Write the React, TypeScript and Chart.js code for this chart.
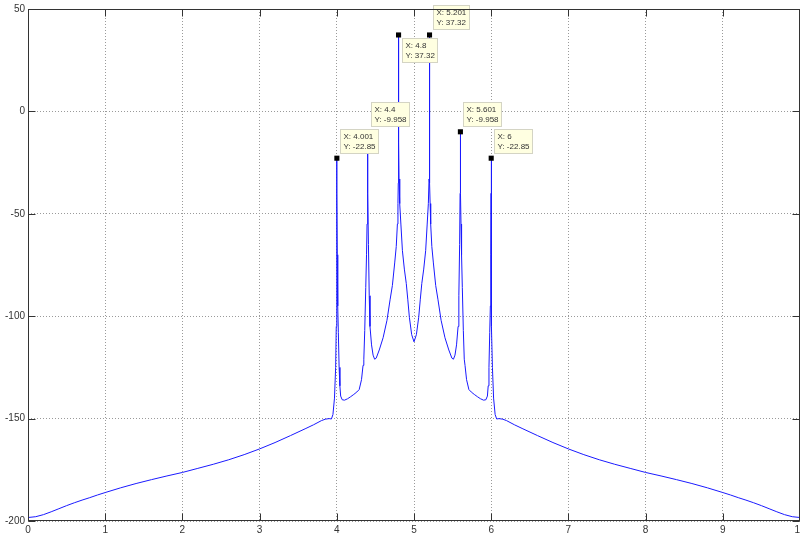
import React, { useEffect, useRef } from "react";
import { Chart, registerables } from "chart.js";

Chart.register(...registerables);

// Frequency axis (x) and magnitude (y) of the plotted trace
const freq: number[] = [
  0, 0.1, 0.2, 0.3, 0.4, 0.5, 0.6, 0.7, 0.8, 0.9,
  1.0, 1.2, 1.4, 1.6, 1.8, 2.0, 2.2, 2.4, 2.6, 2.8,
  3.0, 3.2, 3.4, 3.6, 3.7, 3.8, 3.85, 3.9, 3.93, 3.95,
  3.97, 3.985, 3.993, 3.997, 3.999, 4.0, 4.001, 4.002, 4.006, 4.012,
  4.02, 4.03, 4.04, 4.05, 4.07, 4.1, 4.14, 4.18, 4.22, 4.26,
  4.29, 4.32, 4.34, 4.35, 4.362, 4.375, 4.385, 4.392, 4.396, 4.399,
  4.4, 4.401, 4.404, 4.41, 4.42, 4.43, 4.45, 4.47, 4.49, 4.51,
  4.55, 4.6, 4.65, 4.69, 4.72, 4.75, 4.77, 4.785, 4.792, 4.796,
  4.799, 4.8, 4.802, 4.806, 4.815, 4.83, 4.85, 4.875, 4.9, 4.92,
  4.94, 4.97, 5.0,
  5.031, 5.061, 5.081, 5.101, 5.126, 5.151, 5.171, 5.186, 5.195, 5.199,
  5.201, 5.202, 5.205, 5.209, 5.216, 5.231, 5.251, 5.281, 5.311, 5.351,
  5.401, 5.451, 5.491, 5.511, 5.531, 5.551, 5.571, 5.581, 5.591, 5.597,
  5.6, 5.601, 5.602, 5.605, 5.609, 5.616, 5.626, 5.639, 5.651, 5.661,
  5.681, 5.711, 5.741, 5.781, 5.821, 5.861, 5.901, 5.931, 5.951, 5.961,
  5.971, 5.981, 5.989, 5.995, 5.999, 6.0, 6.001, 6.002, 6.004, 6.008,
  6.016, 6.031, 6.051, 6.071, 6.101, 6.151, 6.2, 6.3, 6.4, 6.6,
  6.8, 7.0, 7.2, 7.4, 7.6, 7.8, 8.0, 8.2, 8.4, 8.6,
  8.8, 9.0, 9.1, 9.2, 9.3, 9.4, 9.5, 9.6, 9.7, 9.8,
  9.9, 10,
];

const magnitude: number[] = [
  -198.3, -197.9, -196.9, -195.5, -194.0, -192.5, -191.1, -189.8, -188.6, -187.3,
  -186.1, -183.8, -181.7, -179.8, -178.0, -176.3, -174.3, -172.3, -170.1, -167.6,
  -164.8, -161.7, -158.3, -154.8, -153.0, -151.0, -150.3, -150.0, -150.2, -148,
  -140, -125, -105, -85, -60, -40, -22.85, -40, -70, -95,
  -108, -125, -134, -139, -140.8, -141, -140.3, -139.3, -138.2, -137,
  -135.8, -131, -124, -121, -107, -86, -70, -55, -40, -25,
  -9.958, -25, -40, -65, -90, -105, -114, -119, -121, -120.5,
  -116.5, -110.5, -102, -92, -85, -74, -66, -55, -45, -35,
  -10, 37.32, -15, -33, -45, -55, -68, -77, -84, -92,
  -100.5, -109, -112.5,
  -109, -100.5, -92, -84, -77, -68, -55, -45, -33, -15,
  37.32, -10, -35, -45, -55, -66, -74, -85, -92, -102,
  -110.5, -116.5, -120.5, -121, -119, -114, -105, -90, -65, -40,
  -25, -9.958, -25, -40, -55, -70, -86, -107, -121, -124,
  -131, -135.8, -137, -138.2, -139.3, -140.3, -141, -140.8, -139, -134,
  -125, -108, -95, -70, -40, -22.85, -40, -60, -85, -105,
  -125, -140, -148, -150.2, -150.0, -150.3, -151.0, -153.0, -154.8, -158.3,
  -161.7, -164.8, -167.6, -170.1, -172.3, -174.3, -176.3, -178.0, -179.8, -181.7,
  -183.8, -186.1, -187.3, -188.6, -189.8, -191.1, -192.5, -194.0, -195.5, -196.9,
  -197.9, -198.3,
];

// Data tips
const tipX: number[] = [4.001, 4.4, 4.8, 5.201, 5.601, 6];
const tipY: number[] = [-22.85, -9.958, 37.32, 37.32, -9.958, -22.85];
const tipXText: string[] = ["4.001", "4.4", "4.8", "5.201", "5.601", "6"];
const tipYText: string[] = ["-22.85", "-9.958", "37.32", "37.32", "-9.958", "-22.85"];
const tipBelow: boolean[] = [false, false, true, false, false, false];

// Axis ticks
const xTickValues: number[] = [0, 1, 2, 3, 4, 5, 6, 7, 8, 9, 10];
const yTickValues: number[] = [-200, -150, -100, -50, 0, 50];

const AXIS_COLOR = "#333333";
const FONT = '"Liberation Sans", Arial, sans-serif';

const framePlugin = {
  id: "matlabFrame",
  afterDatasetsDraw(chart: any) {
    const { ctx, scales } = chart;
    const xs = scales.x;
    const ys = scales.y;
    ctx.save();
    ctx.font = `8px ${FONT}`;
    ctx.textBaseline = "middle";
    for (let i = 0; i < tipX.length; i++) {
      const mx = xs.getPixelForValue(tipX[i]);
      const my = ys.getPixelForValue(tipY[i]);
      const l1 = `X: ${tipXText[i]}`;
      const l2 = `Y: ${tipYText[i]}`;
      const w = Math.round(Math.max(ctx.measureText(l1).width, ctx.measureText(l2).width) + 6);
      const h = 24;
      const left = Math.round(mx + 3) + 0.5;
      const top = Math.round(tipBelow[i] ? my + 3.5 : my - 29.5) + 0.5;
      ctx.fillStyle = "#ffffe1";
      ctx.fillRect(left, top, w, h);
      ctx.strokeStyle = "#d4d4c4";
      ctx.lineWidth = 1;
      ctx.strokeRect(left, top, w, h);
      ctx.fillStyle = "#333333";
      ctx.fillText(l1, left + 3, top + 7.5);
      ctx.fillText(l2, left + 3, top + 17);
    }
    ctx.restore();
  },
  afterDraw(chart: any) {
    const { ctx, chartArea, scales } = chart;
    const { left, right, top, bottom } = chartArea;
    const xs = scales.x;
    const ys = scales.y;
    ctx.save();
    ctx.strokeStyle = AXIS_COLOR;
    ctx.lineWidth = 1;
    const L = Math.round(left) + 0.5;
    const R = Math.round(right) - 0.5;
    const T = Math.round(top) + 0.5;
    const B = Math.round(bottom) - 0.5;
    ctx.strokeRect(L, T, R - L, B - T);
    const tl = 7;
    ctx.beginPath();
    for (const v of xTickValues) {
      const px = Math.round(xs.getPixelForValue(v)) + 0.5;
      ctx.moveTo(px, B);
      ctx.lineTo(px, B - tl);
      ctx.moveTo(px, T);
      ctx.lineTo(px, T + tl);
    }
    for (const v of yTickValues) {
      const py = Math.round(ys.getPixelForValue(v)) + 0.5;
      ctx.moveTo(L, py);
      ctx.lineTo(L + tl, py);
      ctx.moveTo(R, py);
      ctx.lineTo(R - tl, py);
    }
    ctx.stroke();
    ctx.restore();
  },
};

export default function App() {
  const canvasRef = useRef<HTMLCanvasElement | null>(null);

  useEffect(() => {
    const canvas = canvasRef.current;
    if (!canvas) return;
    const points = freq.map((x, i) => ({ x, y: magnitude[i] }));
    const tips = tipX.map((x, i) => ({ x, y: tipY[i] }));
    const chart = new Chart(canvas, {
      type: "line",
      data: {
        datasets: [
          {
            data: tips,
            showLine: false,
            pointStyle: "rect",
            pointRadius: 3.6,
            pointBackgroundColor: "#000000",
            pointBorderColor: "#000000",
            pointBorderWidth: 0,
            order: 0,
          } as any,
          {
            data: points,
            borderColor: "#1a1aff",
            borderWidth: 1,
            pointRadius: 0,
            fill: false,
            tension: 0,
            order: 1,
          },
        ],
      },
      options: {
        animation: false,
        responsive: false,
        devicePixelRatio: 1,
        events: [],
        layout: { padding: { top: 8, right: 40, left: 0, bottom: 0 } },
        plugins: {
          legend: { display: false },
          tooltip: { enabled: false },
        },
        scales: {
          x: {
            type: "linear",
            min: 0,
            max: 10,
            afterBuildTicks: (scale: any) => {
              scale.ticks = xTickValues.map((v) => ({ value: v }));
            },
            afterFit: (scale: any) => {
              scale.height = 15;
            },
            ticks: {
              autoSkip: false,
              maxRotation: 0,
              padding: 3,
              color: AXIS_COLOR,
              font: { family: FONT, size: 10 },
            },
            grid: { color: "#9a9a9a", lineWidth: 1, drawTicks: false },
            border: { display: false, dash: [1, 2] },
          },
          y: {
            type: "linear",
            min: -200,
            max: 50,
            afterBuildTicks: (scale: any) => {
              scale.ticks = yTickValues.map((v) => ({ value: v }));
            },
            afterFit: (scale: any) => {
              scale.width = 28;
            },
            ticks: {
              autoSkip: false,
              padding: 3,
              color: AXIS_COLOR,
              font: { family: FONT, size: 10 },
            },
            grid: { color: "#9a9a9a", lineWidth: 1, drawTicks: false },
            border: { display: false, dash: [1, 2] },
          },
        },
      },
      plugins: [framePlugin],
    });
    return () => chart.destroy();
  }, []);

  return (
    <div
      style={{
        position: "fixed",
        left: 0,
        top: 0,
        width: 800,
        height: 536,
        overflow: "hidden",
        background: "#ffffff",
      }}
    >
      <canvas ref={canvasRef} width={840} height={536} style={{ width: 840, height: 536, display: "block" }} />
    </div>
  );
}
